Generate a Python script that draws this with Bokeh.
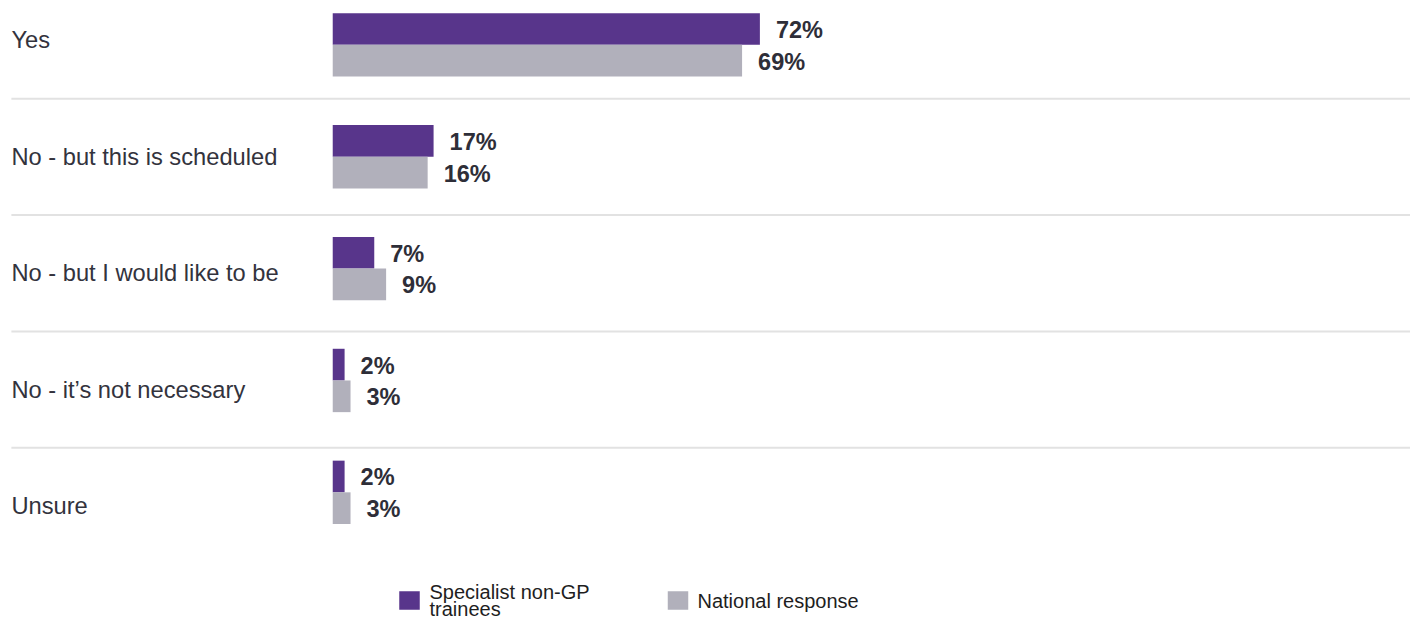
from bokeh.plotting import figure
from bokeh.models import Range1d, ColumnDataSource
from bokeh.embed import file_html
from bokeh.resources import INLINE
from bokeh.core.properties import value

# ---------------- data ----------------
categories = [
    "Yes",
    "No - but this is scheduled",
    "No - but I would like to be",
    "No - it\u2019s not necessary",
    "Unsure",
]
specialist = [72, 17, 7, 2, 2]
national = [69, 16, 9, 3, 3]
series_names = ["Specialist non-GP\ntrainees", "National response"]
series_colors = ["#58358b", "#b1b0bb"]

# ---------------- layout ----------------
W, H = 1410, 621
SX, SY = W / 1426.0, H / 637.0
PX_PER_PCT = 6.0 * SX
X0 = 336.0 * SX           # pixel where 0% lies
ROW_PX = 114.75 * SY      # pitch of bar groups
BAR0 = 45.5 * SY          # pixel centre of first bar group
BAR_H = 32.5 * SY / ROW_PX
LBL_PITCH = 119.4 * SY    # pitch of category labels / separators
LBL0 = 41.0 * SY
LBL_X = 11.0 * SX
FONT = "Liberation Sans"

p = figure(
    width=W, height=H,
    x_range=Range1d(-X0 / PX_PER_PCT, (W - X0) / PX_PER_PCT),
    y_range=Range1d((H - BAR0) / ROW_PX, -BAR0 / ROW_PX),
    x_axis_type=None, y_axis_type=None,
    output_backend="svg", toolbar_location=None,
    min_border=0, outline_line_color=None,
    background_fill_color="white", border_fill_color="white",
)
p.grid.visible = False
p.extra_x_ranges = {"px": Range1d(0, W)}
p.extra_y_ranges = {
    "py": Range1d(H, 0),
    "rows": Range1d((H - LBL0) / LBL_PITCH, -LBL0 / LBL_PITCH),
}

idx = list(range(len(categories)))

# separators
n_sep = len(categories) - 1
p.segment(x0=[LBL_X] * n_sep, x1=[W] * n_sep, y0=[i + 0.5 for i in range(n_sep)],
          y1=[i + 0.5 for i in range(n_sep)], line_color="#e2e2e2", line_width=2,
          x_range_name="px", y_range_name="rows")

# category labels
p.text(x=[LBL_X] * len(categories), y=idx, text=categories,
       x_range_name="px", y_range_name="rows",
       text_font=value(FONT), text_font_size="23.7px", text_color="#33333d",
       text_baseline="middle", text_align="left")

# bars
for k, vals in enumerate([specialist, national]):
    sign = -1 if k == 0 else 1
    ys = [i + sign * BAR_H / 2 for i in idx]
    src = ColumnDataSource(dict(y=ys, v=vals, lbl=[f"{v}%" for v in vals]))
    p.hbar(y="y", left=0, right="v", height=BAR_H, source=src,
           fill_color=series_colors[k], line_color=None)
    p.text(x="v", y="y", text="lbl", source=src, x_offset=16, y_offset=1,
           text_font=value(FONT), text_font_size="23.5px", text_font_style="bold",
           text_color="#2e2e38", text_baseline="middle", text_align="left")

# legend (manual)
LEG_Y = 600.0
leg_box_x = [409.0, 677.5]
leg_txt_x = [429.0, 697.0]
p.rect(x=leg_box_x, y=[LEG_Y] * 2, width=20.5, height=18.5, fill_color=series_colors,
       line_color=None, x_range_name="px", y_range_name="py")
for k, name in enumerate(series_names):
    lines = name.split("\n")
    if len(lines) == 1:
        ys = [LEG_Y]
    else:
        ys = [LEG_Y - 9 + 17 * j for j in range(len(lines))]
    p.text(x=[leg_txt_x[k]] * len(lines), y=ys, text=lines,
           x_range_name="px", y_range_name="py",
           text_font=value(FONT), text_font_size="20px", text_color="#1e1e1e",
           text_baseline="middle", text_align="left")

open("out.html", "w").write(file_html(p, INLINE))
